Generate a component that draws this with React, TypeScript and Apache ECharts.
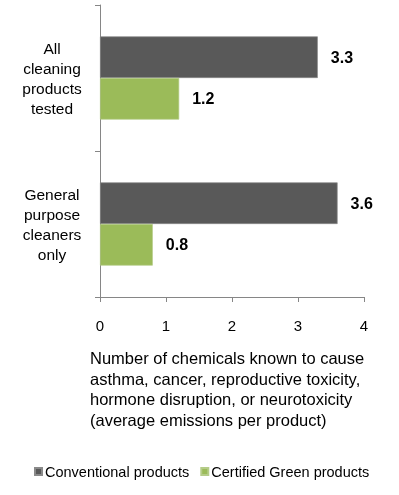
import React, { useEffect, useRef } from "react";
import * as echarts from "echarts";

const categories = ["All\ncleaning\nproducts\ntested", "General\npurpose\ncleaners\nonly"];
const seriesNames = ["Conventional products", "Certified Green products"];
const conventional = [3.3, 3.6];
const green = [1.2, 0.8];
const xTicks = [0, 1, 2, 3, 4];
const axisTitle = "Number of chemicals known to cause\nasthma, cancer, reproductive toxicity,\nhormone disruption, or neurotoxicity\n(average emissions per product)";

export default function App() {
  const ref = useRef<HTMLDivElement>(null);
  useEffect(() => {
    if (!ref.current) return;
    const chart = echarts.init(ref.current, null, { renderer: "svg" });
    const font = "Liberation Sans, Arial, sans-serif";
    chart.setOption({
      animation: false,
      textStyle: { fontFamily: font },
      grid: { left: 100, right: 35, top: 5, bottom: 198, containLabel: false },
      legend: {
        data: seriesNames,
        left: 29,
        top: 459,
        icon: "rect",
        itemWidth: 7,
        itemHeight: 7,
        itemGap: 11,
        textStyle: { fontSize: 14.5, color: "#000", fontFamily: font, padding: [0, 0, 0, -2] },
      },
      xAxis: {
        type: "value",
        min: xTicks[0],
        max: xTicks[xTicks.length - 1],
        interval: 1,
        splitLine: { show: false },
        axisLine: { show: true, lineStyle: { color: "#868686" } },
        axisTick: { show: true, length: 5, lineStyle: { color: "#868686" } },
        axisLabel: { fontSize: 15, color: "#000", margin: 21, fontFamily: font },
      },
      yAxis: {
        type: "category",
        data: categories,
        inverse: true,
        axisLine: { show: true, lineStyle: { color: "#868686" } },
        axisTick: { show: true, length: 5, lineStyle: { color: "#868686" } },
        axisLabel: { fontSize: 15.5, color: "#000", margin: 48, lineHeight: 20, align: "center", fontFamily: font },
      },
      graphic: [
        {
          type: "text",
          left: 90,
          top: 348,
          style: { text: axisTitle, fontSize: 16.5, lineHeight: 20.5, fill: "#000", fontFamily: font },
        },
      ],
      series: [
        {
          name: seriesNames[0],
          type: "bar",
          data: conventional,
          barGap: "0%",
          barCategoryGap: "43%",
          itemStyle: { color: "#595959", borderColor: "#8a8a8a", borderWidth: 0.7 },
          label: { show: true, position: "right", distance: 13, fontSize: 16, fontWeight: "bold", color: "#000", fontFamily: font },
        },
        {
          name: seriesNames[1],
          type: "bar",
          data: green,
          barGap: "0%",
          barCategoryGap: "43%",
          itemStyle: { color: "#9BBB59", borderColor: "#b5cc88", borderWidth: 0.7 },
          label: { show: true, position: "right", distance: 13, fontSize: 16, fontWeight: "bold", color: "#000", fontFamily: font },
        },
      ],
    });
    return () => chart.dispose();
  }, []);
  return <div ref={ref} style={{ position: "fixed", left: 0, top: 0, width: 399, height: 495 }} />;
}
